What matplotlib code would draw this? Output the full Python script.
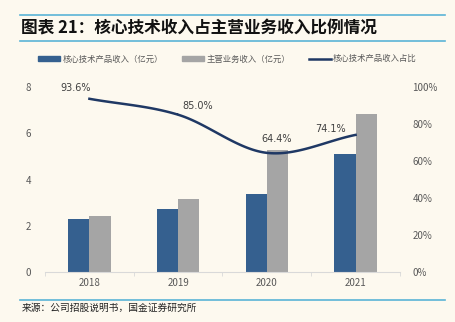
import numpy as np
import matplotlib.pyplot as plt
from matplotlib.lines import Line2D
from matplotlib.patches import Patch

plt.rcParams['font.family'] = ['Noto Sans CJK SC', 'DejaVu Sans']

years = ['2018', '2019', '2020', '2021']
core_rev = [2.29, 2.71, 3.39, 5.09]
main_rev = [2.43, 3.17, 5.26, 6.85]
ratio = [93.6, 85.0, 64.4, 74.1]
ratio_labels = ['93.6%', '85.0%', '64.4%', '74.1%']

bg = '#fdf9ef'
blue = '#35608f'
gray = '#a5a5a5'
navy = '#1f3864'
rule = '#5ab4d6'


def catmull(xs, ys, n=40):
    # smooth curve through the points (like Excel smoothed line)
    xs = np.asarray(xs, float)
    ys = np.asarray(ys, float)
    px = np.concatenate([[2 * xs[0] - xs[1]], xs, [2 * xs[-1] - xs[-2]]])
    py = np.concatenate([[2 * ys[0] - ys[1]], ys, [2 * ys[-1] - ys[-2]]])
    ox, oy = [], []
    for i in range(1, len(px) - 2):
        t = np.linspace(0, 1, n)
        for arr, out in ((px, ox), (py, oy)):
            p0, p1, p2, p3 = arr[i - 1], arr[i], arr[i + 1], arr[i + 2]
            out.extend(0.5 * ((2 * p1) + (-p0 + p2) * t +
                              (2 * p0 - 5 * p1 + 4 * p2 - p3) * t ** 2 +
                              (-p0 + 3 * p1 - 3 * p2 + p3) * t ** 3))
    return np.array(ox), np.array(oy)


fig = plt.figure(figsize=(4.55, 3.22), dpi=100, facecolor=bg)
ax = fig.add_axes([0.099, 0.155, 0.780, 0.575])
ax.set_facecolor(bg)

x = np.arange(len(years))
w = 0.24
ax.bar(x - w / 2, core_rev, w, color=blue, zorder=2)
ax.bar(x + w / 2, main_rev, w, color=gray, zorder=2)
ax.set_xlim(-0.5, len(years) - 0.5)
ax.set_ylim(0, 8)
ax.set_yticks([0, 2, 4, 6, 8])
ax.set_xticks(x)
ax.set_xticklabels(years)
ax.set_xticks(np.arange(-0.5, len(years), 1), minor=True)
ax.tick_params(axis='x', which='major', length=0, labelsize=7, colors='#595959', pad=4)
ax.tick_params(axis='x', which='minor', length=3, color='#d9d9d9', direction='out')
ax.tick_params(axis='y', length=0, labelsize=7, colors='#595959', pad=10)
for s in ['top', 'right', 'left']:
    ax.spines[s].set_visible(False)
ax.spines['bottom'].set_color('#d9d9d9')

ax2 = ax.twinx()
ax2.set_ylim(0, 100)
ax2.set_yticks(np.arange(0, 101, 20))
ax2.set_yticklabels([f'{v}%' for v in range(0, 101, 20)])
ax2.tick_params(axis='y', length=0, labelsize=7, colors='#595959', pad=9)
for s in ax2.spines.values():
    s.set_visible(False)
sx, sy = catmull(x, ratio)
ax2.plot(sx, sy, color=navy, lw=1.8, zorder=3)
offsets = [(-10, 8), (14, 6), (7, 10), (-18, 4)]
for xi, yi, lab, off in zip(x, ratio, ratio_labels, offsets):
    ax2.annotate(lab, (xi, yi), xytext=off, textcoords='offset points',
                 ha='center', va='center', fontsize=7, color='#404040',
                 family=['DejaVu Sans'])

# title block
fig.add_artist(Line2D([0.044, 0.978], [0.953, 0.953], color=rule, lw=1.2))
fig.add_artist(Line2D([0.044, 0.978], [0.873, 0.873], color=rule, lw=1.2))
fig.text(0.047, 0.913, '图表 21：核心技术收入占主营业务收入比例情况', fontsize=12,
         fontweight='bold', style='italic', va='center', color='#111111')

handles = [Patch(color=blue), Patch(color=gray), Line2D([], [], color=navy, lw=1.8)]
labels = ['核心技术产品收入（亿元）', '主营业务收入（亿元）', '核心技术产品收入占比']
fig.legend(handles, labels, loc='center', bbox_to_anchor=(0.5, 0.817), ncol=3,
           frameon=False, fontsize=6, handlelength=2.6, handleheight=0.5,
           columnspacing=2.3, handletextpad=0.3, labelcolor='#595959')

fig.add_artist(Line2D([0.044, 0.978], [0.068, 0.068], color=rule, lw=1.2))
fig.text(0.047, 0.045, '来源：公司招股说明书，国金证券研究所', fontsize=7,
         va='center', color='#222222')

fig.savefig('out.png', dpi=100, facecolor=bg)
